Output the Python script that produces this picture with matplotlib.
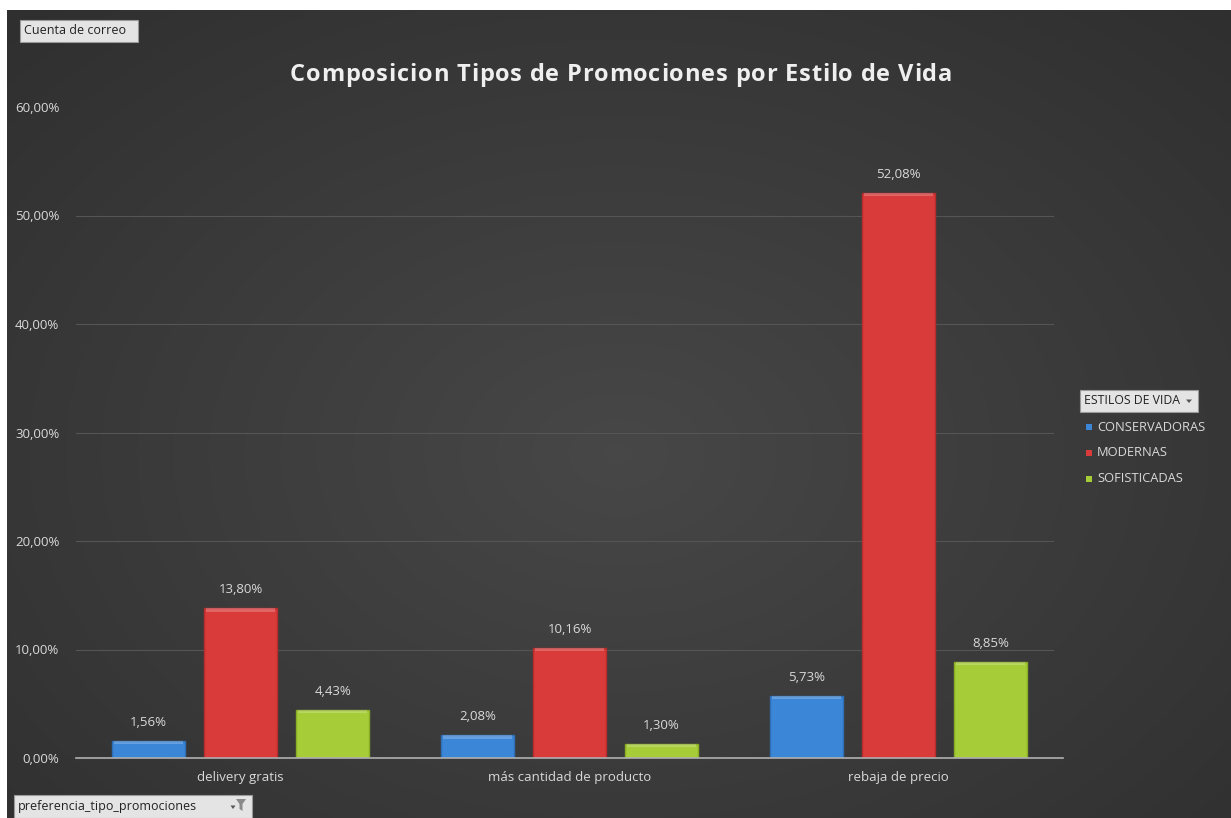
import numpy as np
import matplotlib
matplotlib.use("Agg")
import matplotlib.pyplot as plt
from matplotlib.patches import Rectangle, Polygon
from matplotlib.ticker import FuncFormatter

plt.rcParams['font.family'] = ['Open Sans', 'DejaVu Sans']

categories = ["delivery gratis", "más cantidad de producto", "rebaja de precio"]
series_names = ["CONSERVADORAS", "MODERNAS", "SOFISTICADAS"]
conservadoras = [1.56, 2.08, 5.73]
modernas = [13.80, 10.16, 52.08]
sofisticadas = [4.43, 1.30, 8.85]
y_ticks = [0, 10, 20, 30, 40, 50, 60]
title = "Composicion Tipos de Promociones por Estilo de Vida"

series_values = [conservadoras, modernas, sofisticadas]
colors = ["#3b86d6", "#d93a3a", "#a6cc38"]
edge_colors = ["#2f6fb8", "#b82c2c", "#8aad26"]

W, H = 1231, 818
fig = plt.figure(figsize=(W / 100, H / 100), dpi=100)
fig.patch.set_facecolor("white")

# Dark panel with a soft radial glow
bg = fig.add_axes([7 / W, 0, 1 - 7 / W, 1 - 10 / H])
bg.set_axis_off()
yy, xx = np.mgrid[0:1:400j, 0:1:600j]
r = np.sqrt(((xx - 0.5) / 0.75) ** 2 + ((yy - 0.45) / 0.8) ** 2)
shade = np.clip(0.28 - 0.10 * r, 0.17, 0.28)
img = np.dstack([shade, shade, shade])
bg.imshow(img, extent=[0, 1, 0, 1], aspect="auto", origin="lower")
bg.set_xlim(0, 1)
bg.set_ylim(0, 1)

ax = fig.add_axes([76 / W, 1 - 758 / H, (1063 - 76) / W, (758 - 107) / H])
ax.patch.set_alpha(0)

x = np.arange(len(categories))
bar_w = 0.22
offsets = [-0.28, 0.0, 0.28]
for vals, off, c, ec, name in zip(series_values, offsets, colors, edge_colors, series_names):
    bars = ax.bar(x + off, vals, width=bar_w, color=c, edgecolor=ec, linewidth=1.0, label=name, zorder=3)
    for b, v in zip(bars, vals):
        # light bevel along the top of each bar
        ax.add_patch(Rectangle((b.get_x() + 0.004, v - 0.3), b.get_width() - 0.008, 0.3,
                               facecolor="white", alpha=0.22, linewidth=0, zorder=4))
        ax.text(b.get_x() + b.get_width() / 2, v + 1.1, f"{v:.2f}%".replace(".", ","),
                ha="center", va="bottom", fontsize=9.5, color="#d9d9d9", zorder=5)

ax.set_xlim(-0.5, 2.5)
ax.set_ylim(0, 60)
ax.set_yticks(y_ticks)
ax.yaxis.set_major_formatter(FuncFormatter(lambda v, p: f"{v:.2f}%".replace(".", ",")))
ax.set_xticks(x)
ax.set_xticklabels(categories)
ax.tick_params(axis="both", length=0, colors="#d9d9d9", labelsize=9.5)
ax.tick_params(axis="y", pad=12)
ax.tick_params(axis="x", pad=9)
for s in ["top", "right", "left"]:
    ax.spines[s].set_visible(False)
ax.spines["bottom"].set_color("#b0b0b0")
ax.spines["bottom"].set_linewidth(1.2)
ax.spines["bottom"].set_zorder(6)
# gridlines (none along the top edge)
for t in y_ticks[1:-1]:
    ax.axhline(t, xmin=0, xmax=0.99, color="#555555", linewidth=0.8, zorder=0)

# Title with slightly open letter spacing
renderer = fig.canvas.get_renderer()
tsize = 17
tracking = 0.8
probe = fig.text(0, 0, title, fontsize=tsize, fontweight="bold")
full_w = probe.get_window_extent(renderer).width
probe.remove()
total_w = full_w + tracking * (len(title) - 1)
x0 = 621 - total_w / 2
ty = 1 - 75 / H
for i, ch in enumerate(title):
    if i == 0:
        off_px = 0.0
    else:
        p = fig.text(0, 0, title[:i] + "|", fontsize=tsize, fontweight="bold")
        q = fig.text(0, 0, "|", fontsize=tsize, fontweight="bold")
        off_px = p.get_window_extent(renderer).width - q.get_window_extent(renderer).width
        p.remove()
        q.remove()
    fig.text((x0 + off_px + tracking * i) / W, ty, ch, ha="left", va="center",
             fontsize=tsize, fontweight="bold", color="#efefef")

# Field buttons
def field_button(x0, y0, x1, y1, text, size=9):
    fig.patches.append(Rectangle((x0 / W, 1 - y1 / H), (x1 - x0) / W, (y1 - y0) / H,
                                 transform=fig.transFigure, facecolor="#e4e4e4",
                                 edgecolor="#9a9a9a", linewidth=0.8))
    fig.text((x0 + 4) / W, 1 - (y0 + y1) / 2 / H, text, ha="left", va="center",
             fontsize=size, color="#222222")

def down_arrow(xc, yc, size=3.5):
    fig.patches.append(Polygon([((xc - size) / W, 1 - (yc - 1.5) / H),
                                ((xc + size) / W, 1 - (yc - 1.5) / H),
                                (xc / W, 1 - (yc + 2) / H)],
                               closed=True, transform=fig.transFigure,
                               facecolor="#555555", linewidth=0))

field_button(20, 20, 138, 42, "Cuenta de correo")
field_button(14, 795, 252, 818, "preferencia_tipo_promociones")
down_arrow(233, 807, 2.5)
# funnel icon
fig.patches.append(Polygon([(236 / W, 1 - 799 / H), (246 / W, 1 - 799 / H),
                            (242.5 / W, 1 - 804 / H), (242.5 / W, 1 - 811 / H),
                            (239.5 / W, 1 - 809 / H), (239.5 / W, 1 - 804 / H)],
                           closed=True, transform=fig.transFigure,
                           facecolor="#8a8a8a", linewidth=0))
field_button(1080, 390, 1198, 412, "ESTILOS DE VIDA", size=8.8)
down_arrow(1189, 401, 3)

# Legend entries
for i, (name, c) in enumerate(zip(series_names, colors)):
    yc = 1 - (427 + i * 26) / H
    fig.patches.append(Rectangle((1086 / W, yc - 3 / H), 6 / W, 6 / H,
                                 transform=fig.transFigure, facecolor=c, linewidth=0))
    fig.text(1097 / W, yc, name, ha="left", va="center", fontsize=9.3, color="#d9d9d9")

fig.savefig("out.png", dpi=100, facecolor=fig.get_facecolor())
